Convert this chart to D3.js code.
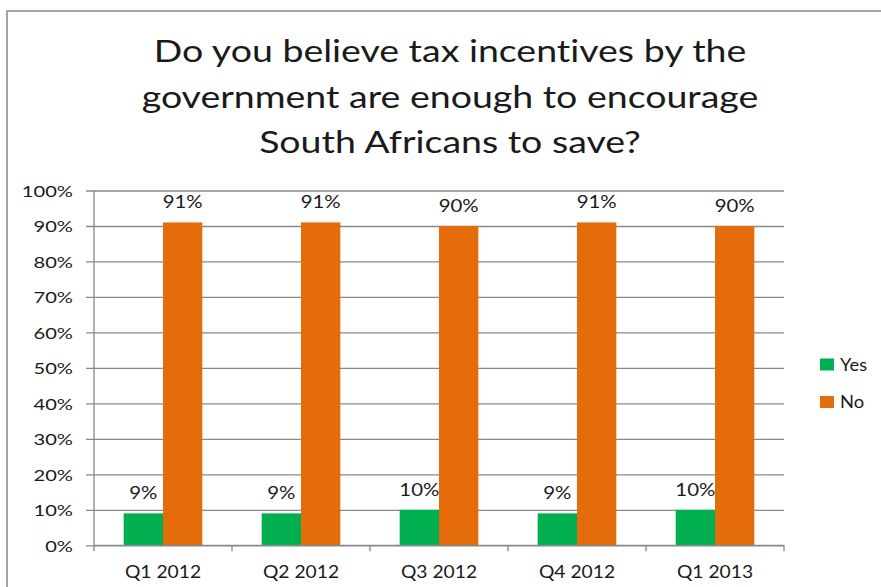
<!DOCTYPE html>
<html>
<head>
<meta charset="utf-8">
<script src="https://cdn.jsdelivr.net/npm/d3@7"></script>
<style>
  html, body { margin: 0; padding: 0; background: #fff; }
  svg { display: block; }
  text { font-family: Lato, "Open Sans", sans-serif; fill: #1a1a1a; font-variant-ligatures: none; }
</style>
</head>
<body>
<svg id="chart" width="881" height="587"></svg>
<script>
// Survey answers per quarter (percent of respondents)
const categories = ["Q1 2012", "Q2 2012", "Q3 2012", "Q4 2012", "Q1 2013"];
const seriesNames = ["Yes", "No"];
const yesValues = [9, 9, 10, 9, 10];
const noValues = [91, 91, 90, 91, 90];
const yTicks = [0, 10, 20, 30, 40, 50, 60, 70, 80, 90, 100];
const titleLines = [
  "Do you believe tax incentives by the",
  "government are enough to encourage",
  "South Africans to save?"
];

const colors = { Yes: "#00B050", No: "#E46C0A" };
const seriesValues = { Yes: yesValues, No: noValues };

const svg = d3.select("#chart");
const W = 881, H = 587;

// Widen glyphs horizontally around each label's anchor point
function stretch(sel, s) {
  sel.each(function () {
    const t = d3.select(this);
    const x = +t.attr("x") || 0;
    const yy = +t.attr("y") || 0;
    t.attr("x", 0).attr("y", 0)
      .attr("transform", `translate(${x},${yy}) scale(${s},1)`);
  });
}

// Chart area frame (runs off the right and bottom edges)
svg.append("rect")
  .attr("x", 7).attr("y", 11)
  .attr("width", W + 20).attr("height", H + 20)
  .attr("fill", "none")
  .attr("stroke", "#868686")
  .attr("stroke-width", 1.5);

// Title
svg.append("g").selectAll("text")
  .data(titleLines)
  .join("text")
  .attr("x", 450)
  .attr("y", (d, i) => 62 + i * 45.5)
  .attr("text-anchor", "middle")
  .style("font-size", "30px")
  .text(d => d)
  .call(stretch, 1.25);

// Plot area
const plot = { left: 94, right: 784, top: 190.5, bottom: 545.3 };

const x0 = d3.scaleBand()
  .domain(categories)
  .range([plot.left, plot.right])
  .paddingInner(0.43)
  .paddingOuter(0.215);

const x1 = d3.scaleBand()
  .domain(seriesNames)
  .range([0, x0.bandwidth()]);

const y = d3.scaleLinear()
  .domain([0, 100])
  .range([plot.bottom, plot.top]);

// Horizontal gridlines with tick labels
const yAxis = d3.axisLeft(y)
  .tickValues(yTicks)
  .tickFormat(d => d + "%")
  .tickSize(-(plot.right - plot.left))
  .tickSizeOuter(0)
  .tickPadding(21);

const gy = svg.append("g")
  .attr("transform", `translate(${plot.left},0)`)
  .call(yAxis);
gy.select(".domain").remove();
gy.selectAll(".tick line")
  .attr("x1", -8)
  .attr("stroke", "#888888")
  .attr("stroke-width", 1.3);
gy.selectAll(".tick text")
  .attr("dy", "0.38em")
  .style("font-size", "15.5px")
  .style("font-family", "Lato, sans-serif")
  .attr("fill", "#1a1a1a")
  .call(stretch, 1.3);

// Vertical axis line
svg.append("line")
  .attr("x1", plot.left).attr("x2", plot.left)
  .attr("y1", plot.top).attr("y2", plot.bottom)
  .attr("stroke", "#888888")
  .attr("stroke-width", 1.3);

// Bars
const groups = svg.append("g")
  .selectAll("g")
  .data(categories)
  .join("g")
  .attr("transform", d => `translate(${x0(d)},0)`);

groups.selectAll("rect")
  .data((d, i) => seriesNames.map(s => ({ s, v: seriesValues[s][i] })))
  .join("rect")
  .attr("x", d => x1(d.s))
  .attr("y", d => y(d.v))
  .attr("width", x1.bandwidth())
  .attr("height", d => y(0) - y(d.v))
  .attr("fill", d => colors[d.s]);

// Value labels
groups.selectAll("text.val")
  .data((d, i) => seriesNames.map(s => ({ s, v: seriesValues[s][i] })))
  .join("text")
  .attr("class", "val")
  .attr("x", d => x1(d.s) + x1.bandwidth() / 2)
  .attr("y", d => y(d.v) - 14)
  .attr("text-anchor", "middle")
  .style("font-size", "17px")
  .text(d => d.v + "%")
  .call(stretch, 1.2);

// Category axis
const xTickScale = d3.scaleLinear()
  .domain([0, categories.length])
  .range([plot.left, plot.right]);

const xAxis = d3.axisBottom(x0).tickSize(0).tickPadding(0);
const gx = svg.append("g")
  .attr("transform", `translate(0,${plot.bottom})`)
  .call(xAxis);
gx.select(".domain")
  .attr("d", `M${plot.left},0H${plot.right}`)
  .attr("stroke", "#888888")
  .attr("stroke-width", 1.3);
gx.selectAll(".tick text")
  .attr("y", 33)
  .attr("dy", 0)
  .style("font-size", "17.5px")
  .style("font-family", "Lato, sans-serif")
  .attr("fill", "#1a1a1a")
  .call(stretch, 1.1);

// Tick marks between categories
svg.append("g")
  .selectAll("line")
  .data(d3.range(categories.length + 1))
  .join("line")
  .attr("x1", d => xTickScale(d)).attr("x2", d => xTickScale(d))
  .attr("y1", plot.bottom).attr("y2", plot.bottom + 6)
  .attr("stroke", "#888888")
  .attr("stroke-width", 1.3);

// Legend
const legend = svg.append("g")
  .selectAll("g")
  .data(seriesNames)
  .join("g")
  .attr("transform", (d, i) => `translate(820,${364.5 + i * 37.5})`);

legend.append("rect")
  .attr("x", 0).attr("y", -6)
  .attr("width", 14).attr("height", 12)
  .attr("fill", d => colors[d]);

legend.append("text")
  .attr("x", 20)
  .attr("y", 6)
  .style("font-size", "17px")
  .text(d => d)
  .call(stretch, 1.08);
</script>
</body>
</html>
